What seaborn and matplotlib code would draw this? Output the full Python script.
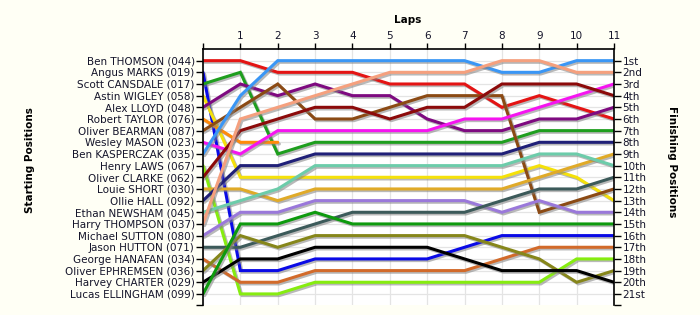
import matplotlib
matplotlib.use("Agg")
import matplotlib.pyplot as plt
import matplotlib.patheffects as pe
import numpy as np
import pandas as pd
import seaborn as sns

# ---------------- data ----------------
laps = list(range(12))  # lap 0 = start grid

drivers = [
    "Ben THOMSON (044)", "Angus MARKS (019)", "Scott CANSDALE (017)", "Astin WIGLEY (058)",
    "Alex LLOYD (048)", "Robert TAYLOR (076)", "Oliver BEARMAN (087)", "Wesley MASON (023)",
    "Ben KASPERCZAK (035)", "Henry LAWS (067)", "Oliver CLARKE (062)", "Louie SHORT (030)",
    "Ollie HALL (092)", "Ethan NEWSHAM (045)", "Harry THOMPSON (037)", "Michael SUTTON (080)",
    "Jason HUTTON (071)", "George HANAFAN (034)", "Oliver EPHREMSEN (036)", "Harvey CHARTER (029)",
    "Lucas ELLINGHAM (099)",
]

finish_labels = ["1st", "2nd", "3rd", "4th", "5th", "6th", "7th", "8th", "9th", "10th",
                 "11th", "12th", "13th", "14th", "15th", "16th", "17th", "18th", "19th",
                 "20th", "21st"]

# position of each driver at laps 0..11 (None = retired)
thomson    = [1, 1, 2, 2, 2, 3, 3, 3, 5, 4, 5, 6]
marks      = [2, 19, 19, 18, 18, 18, 18, 17, 16, 16, 16, 16]
cansdale   = [3, 2, 9, 8, 8, 8, 8, 8, 8, 7, 7, 7]
wigley     = [4, 11, 11, 11, 11, 11, 11, 11, 11, 10, 11, 13]
lloyd      = [5, 3, 4, 3, 4, 4, 6, 7, 7, 6, 6, 5]
taylor     = [6, 8, 8, None, None, None, None, None, None, None, None, None]
bearman    = [7, 5, 3, 6, 6, 5, 4, 4, 4, 14, 13, 12]
mason      = [8, 9, 7, 7, 7, 7, 7, 6, 6, 5, 4, 3]
kasperczak = [9, 4, 1, 1, 1, 1, 1, 1, 2, 2, 1, 1]
laws       = [10, 21, 21, 20, 20, 20, 20, 20, 20, 20, 18, 18]
clarke     = [11, 7, 6, 5, 5, 6, 5, 5, 3, 3, 3, 4]
short      = [12, 12, 13, 12, 12, 12, 12, 12, 12, 11, 10, 9]
hall       = [13, 10, 10, 9, 9, 9, 9, 9, 9, 8, 8, 8]
newsham    = [14, 13, 12, 10, 10, 10, 10, 10, 10, 9, 9, 10]
thompson   = [15, 6, 5, 4, 3, 2, 2, 2, 1, 1, 2, 2]
sutton     = [16, 14, 14, 13, 13, 13, 13, 13, 14, 13, 14, 14]
hutton     = [17, 17, 16, 15, 14, 14, 14, 14, 13, 12, 12, 11]
hanafan    = [18, 20, 20, 19, 19, 19, 19, 19, 18, 17, 17, 17]
ephremsen  = [19, 16, 17, 16, 16, 16, 16, 16, 17, 18, 20, 19]
charter    = [20, 18, 18, 17, 17, 17, 17, 18, 19, 19, 19, 20]
ellingham  = [21, 15, 15, 14, 15, 15, 15, 15, 15, 15, 15, 15]

series = [thomson, marks, cansdale, wigley, lloyd, taylor, bearman, mason, kasperczak,
          laws, clarke, short, hall, newsham, thompson, sutton, hutton, hanafan,
          ephremsen, charter, ellingham]

# ---------------- style ----------------
colors = ["#E41414", "#0A0AE6", "#1E9E1E", "#F5E10A", "#7E0A80", "#FF8A0A", "#8B4A14",
          "#F514F0", "#3A96F5", "#86EC10", "#8C0A0A", "#E0AA28", "#202078", "#6CCCAA",
          "#F5A07E", "#9A78DA", "#3C5A5A", "#D26A2A", "#86861A", "#000000", "#0E9A0E"]
palette = dict(zip(drivers, colors))
text_color = "#14142A"

rows = []
for name, pos in zip(drivers, series):
    for lap, p in zip(laps, pos):
        if p is not None:
            rows.append({"driver": name, "lap": lap, "pos": p})
df = pd.DataFrame(rows)

sns.set_theme(style="white")
plt.rcParams["font.family"] = ["DejaVu Sans"]

bg = "#FFFFF5"
fig = plt.figure(figsize=(7, 3.15), dpi=100, facecolor=bg)
ax = fig.add_axes([203 / 700, 1 - 305 / 315, (614 - 203) / 700, (305 - 49) / 315])
ax.set_facecolor("white")

sns.lineplot(data=df, x="lap", y="pos", hue="driver", hue_order=drivers, palette=palette,
             linewidth=2.2, legend=False, ax=ax, sort=False, estimator=None)

for line in ax.get_lines():
    line.set_path_effects([pe.SimpleLineShadow(offset=(1.2, -1.2), shadow_color="#808080", alpha=0.55),
                           pe.Normal()])
    line.set_solid_joinstyle("miter")

ybottom = 21.95
ax.set_xlim(0, 11)
ax.set_ylim(ybottom, 0.0)

# grid / ticks
ax.set_xticks(laps)
ax.set_xticklabels([""] + [str(l) for l in laps[1:]])
ax.set_yticks(range(1, 22))
ax.set_yticklabels(drivers)
ax.set_yticks([ybottom], minor=True)
ax.grid(True, which="major", color="#E4E4E4", linewidth=0.9)
ax.set_axisbelow(True)

ax.xaxis.tick_top()
ax.xaxis.set_label_position("top")
ax.set_xlabel("")
ax.set_ylabel("")
ax.tick_params(axis="x", direction="out", length=4, width=1, color="black", labelsize=7.5,
               labelcolor=text_color, pad=2, top=True, bottom=False)
ax.tick_params(axis="y", which="both", direction="out", length=5, width=1, color="black",
               labelsize=7.5, labelcolor=text_color, pad=1, left=True)

for s in ["top", "left"]:
    ax.spines[s].set_visible(True)
    ax.spines[s].set_color("black")
    ax.spines[s].set_linewidth(1.2)
ax.spines["bottom"].set_visible(False)
ax.spines["right"].set_visible(False)

ax2 = ax.twinx()
ax2.set_ylim(ax.get_ylim())
ax2.set_yticks(range(1, 22))
ax2.set_yticklabels(finish_labels)
ax2.set_yticks([ybottom], minor=True)
ax2.tick_params(axis="y", which="both", direction="out", length=5, width=1, color="black",
                labelsize=7.5, labelcolor=text_color, pad=1, right=True)
ax2.grid(False)
for s in ["top", "left", "bottom"]:
    ax2.spines[s].set_visible(False)
ax2.spines["right"].set_visible(True)
ax2.spines["right"].set_color("black")
ax2.spines["right"].set_linewidth(1.2)

fig.text(408 / 700, 1 - 20 / 315, "Laps", ha="center", va="center", fontsize=7.5,
         fontweight="bold", color="black")
fig.text(30 / 700, 1 - 160 / 315, "Starting Positions", ha="center", va="center",
         rotation=90, fontsize=7.5, fontweight="bold", color="black")
fig.text(672 / 700, 1 - 162 / 315, "Finishing Positions", ha="center", va="center",
         rotation=-90, fontsize=7.5, fontweight="bold", color="black")

fig.savefig("out.png", dpi=100, facecolor=bg)
